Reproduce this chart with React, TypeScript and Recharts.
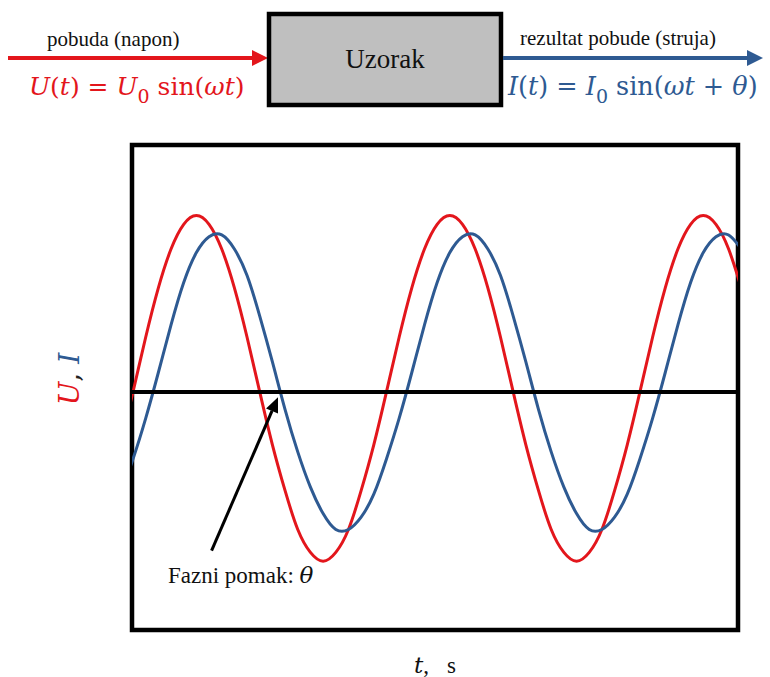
import { LineChart, Line, XAxis, YAxis, ReferenceLine, ReferenceArea } from "recharts";

// time axis in tenths of a period (one full period = 10 units)
const time = [
  -0.5, 0, 0.5, 1, 1.5, 2, 2.5, 3, 3.5, 4, 4.5, 5, 5.5, 6, 6.5, 7, 7.5, 8, 8.5, 9, 9.5,
  10, 10.5, 11, 11.5, 12, 12.5, 13, 13.5, 14, 14.5, 15, 15.5, 16, 16.5, 17, 17.5, 18, 18.5, 19, 19.5,
  20, 20.5, 21, 21.5, 22, 22.5, 23, 23.5, 24,
];

// napon U(t) - red curve
const voltage = [
  -0.3, 0, 0.31, 0.59, 0.81, 0.95, 1.0, 0.95, 0.81, 0.59, 0.31, 0, -0.3, -0.56, -0.78, -0.91, -0.96, -0.91, -0.78, -0.56, -0.3,
  0, 0.31, 0.59, 0.81, 0.95, 1.0, 0.95, 0.81, 0.59, 0.31, 0, -0.3, -0.56, -0.78, -0.91, -0.96, -0.91, -0.78, -0.56, -0.3,
  0, 0.31, 0.59, 0.81, 0.95, 1.0, 0.95, 0.81, 0.59,
];

// struja I(t) - blue curve, lagging a bit
const current = [
  -0.58, -0.38, -0.15, 0.11, 0.38, 0.62, 0.79, 0.88, 0.89, 0.81, 0.66, 0.43, 0.17, -0.1, -0.34, -0.54, -0.69, -0.78, -0.78, -0.71, -0.58,
  -0.38, -0.15, 0.11, 0.38, 0.62, 0.79, 0.88, 0.89, 0.81, 0.66, 0.43, 0.17, -0.1, -0.34, -0.54, -0.69, -0.78, -0.78, -0.71, -0.58,
  -0.38, -0.15, 0.11, 0.38, 0.62, 0.79, 0.88, 0.89, 0.81,
];

const xDomain = [-0.04, 23.87];
const yDomain = [-1.35, 1.4];

// arrow pointing at the phase shift
const phaseArrow = [
  { x: 3.1, y: -0.9 },
  { x: 5.72, y: -0.03 },
];

const RED = "#e3161c";
const BLUE = "#2e5a92";
const SERIF = "'Liberation Serif', 'Times New Roman', serif";
const MATH = "'DejaVu Serif', serif";

const data = time.map((t, i) => ({ t, u: voltage[i], i: current[i] }));

const ArrowShape = (props: any) => {
  const { x1, y1, x2, y2 } = props;
  if (x1 == null || x2 == null) return null;
  const ang = Math.atan2(y2 - y1, x2 - x1);
  const len = 15;
  const half = 6.5;
  const bx = x2 - len * Math.cos(ang);
  const by = y2 - len * Math.sin(ang);
  const px = -Math.sin(ang) * half;
  const py = Math.cos(ang) * half;
  return (
    <g>
      <line x1={x1} y1={y1} x2={bx} y2={by} stroke="#000" strokeWidth={3} />
      <polygon points={`${x2},${y2} ${bx + px},${by + py} ${bx - px},${by - py}`} fill="#000" />
    </g>
  );
};

function Header() {
  return (
    <svg width={770} height={677} style={{ position: "absolute", left: 0, top: 0, pointerEvents: "none" }}>
      {/* input arrow */}
      <line x1={8} y1={58} x2={255} y2={58} stroke={RED} strokeWidth={4} />
      <polygon points="252,50 268,58 252,66" fill={RED} />
      <text x={47} y={46} fontFamily={SERIF} fontSize={21} fill="#111">pobuda (napon)</text>
      <text x={29} y={95} fontFamily={MATH} fontSize={25} fill={RED}>
        <tspan fontStyle="italic">U</tspan>(<tspan fontStyle="italic">t</tspan>) = <tspan fontStyle="italic">U</tspan>
        <tspan fontSize={19} dy={8}>0</tspan>
        <tspan dy={-8}> sin(</tspan><tspan fontStyle="italic">ωt</tspan>)
      </text>

      {/* sample box */}
      <rect x={269} y={14} width={232} height={91} fill="#bfbfbf" stroke="#000" strokeWidth={4.5} />
      <text x={385} y={68} textAnchor="middle" fontFamily={SERIF} fontSize={27} fill="#111">Uzorak</text>

      {/* output arrow */}
      <line x1={503} y1={58} x2={750} y2={58} stroke={BLUE} strokeWidth={4} />
      <polygon points="747,50 763,58 747,66" fill={BLUE} />
      <text x={520} y={45} fontFamily={SERIF} fontSize={21} fill="#111">rezultat pobude (struja)</text>
      <text x={508} y={95} fontFamily={MATH} fontSize={25.5} fill={BLUE}>
        <tspan fontStyle="italic">I</tspan>(<tspan fontStyle="italic">t</tspan>) = <tspan fontStyle="italic">I</tspan>
        <tspan fontSize={19} dy={8}>0</tspan>
        <tspan dy={-8}> sin(</tspan><tspan fontStyle="italic">ωt</tspan> + <tspan fontStyle="italic">θ</tspan>)
      </text>

      {/* annotation + axis labels */}
      <text x={168} y={583} fontFamily={SERIF} fontSize={23} fill="#111">
        Fazni pomak: <tspan fontFamily={MATH} fontStyle="italic">θ</tspan>
      </text>
      <text y={673} fontFamily={SERIF} fontSize={23} fill="#111">
        <tspan x={414} fontFamily={MATH} fontStyle="italic">t</tspan>
        <tspan>,</tspan>
        <tspan x={447}>s</tspan>
      </text>
      <text transform="translate(79,379) rotate(-90)" textAnchor="middle" fontFamily={MATH} fontSize={28}>
        <tspan fontStyle="italic" fill={RED}>U</tspan>
        <tspan fill="#222">, </tspan>
        <tspan fontStyle="italic" fill={BLUE}>I</tspan>
      </text>
    </svg>
  );
}

export default function App() {
  return (
    <div style={{ position: "relative", width: 770, height: 677, background: "#fff" }}>
      <style>{`body{margin:0}`}</style>
      <LineChart width={770} height={677} data={data} margin={{ top: 145, right: 32, bottom: 47, left: 132 }}>
        <XAxis dataKey="t" type="number" domain={xDomain} allowDataOverflow hide />
        <YAxis type="number" domain={yDomain} allowDataOverflow hide />
        <Line type="natural" dataKey="u" stroke={RED} strokeWidth={3} dot={false} isAnimationActive={false} />
        <Line type="natural" dataKey="i" stroke={BLUE} strokeWidth={3} dot={false} isAnimationActive={false} />
        <ReferenceLine y={0} stroke="#000" strokeWidth={4} />
        <ReferenceLine segment={phaseArrow} shape={ArrowShape} />
        <ReferenceArea
          x1={xDomain[0]}
          x2={xDomain[1]}
          y1={yDomain[0]}
          y2={yDomain[1]}
          fill="none"
          fillOpacity={0}
          stroke="#000"
          strokeWidth={4.5}
        />
      </LineChart>
      <Header />
    </div>
  );
}
